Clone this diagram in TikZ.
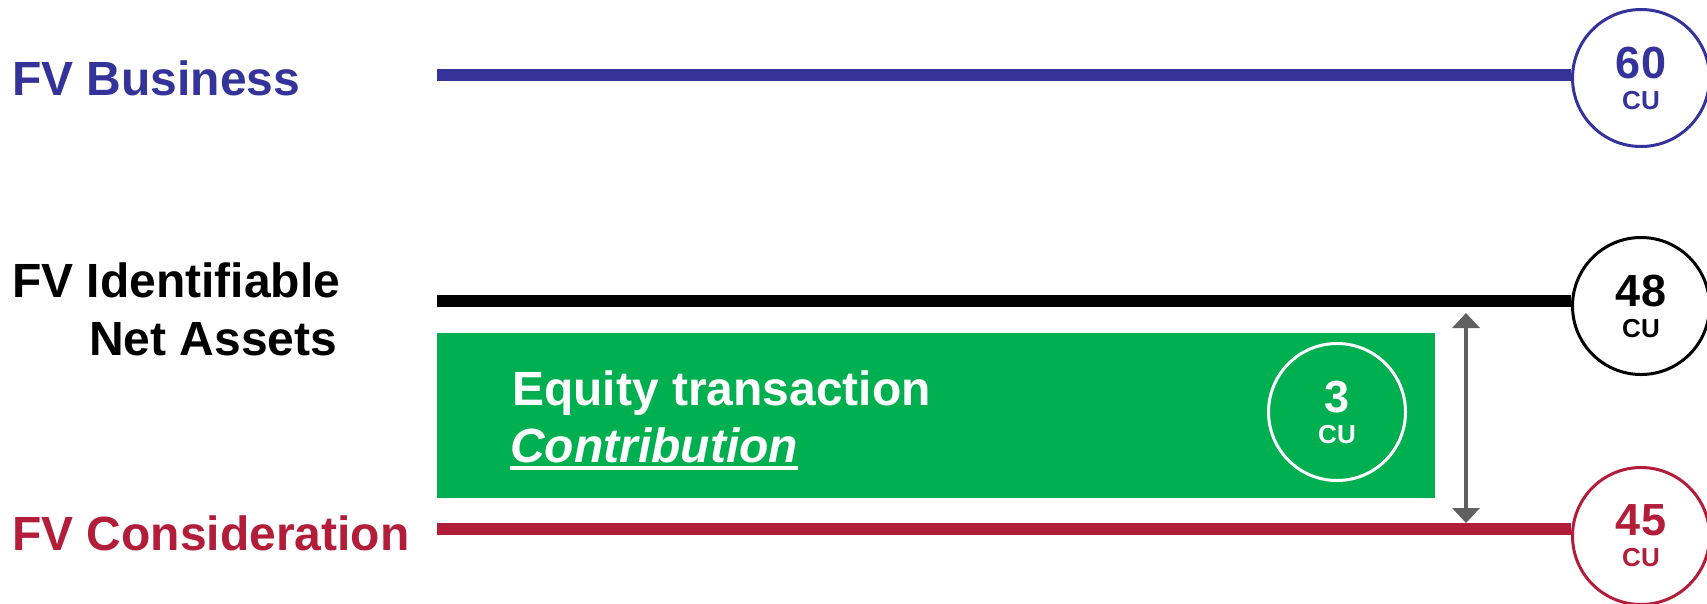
\documentclass[tikz,border=0pt]{standalone}
\usepackage{fontspec}
\setmainfont{Liberation Sans}
\usepackage{tikz}
\usetikzlibrary{arrows.meta}
\definecolor{fvblue}{RGB}{51,51,153}
\definecolor{fvred}{RGB}{178,29,58}
\definecolor{fvgreen}{RGB}{0,176,80}
\definecolor{fvgray}{RGB}{96,96,96}
\newcommand{\lbltxt}{\fontsize{48}{58}\selectfont\bfseries}
\newcommand{\cuval}[1]{{\fontsize{45}{31}\selectfont #1}\\{\fontsize{26}{31}\selectfont CU}}

\begin{document}
\begin{tikzpicture}[x=1pt, y=-1pt,
    valcircle/.style={shape=circle, draw=#1, text=#1, line width=3pt, fill=white, minimum size=137pt, inner sep=0pt, align=center, font=\bfseries\fontsize{26}{31}\selectfont},
    levelline/.style={line width=12pt},
    lbl/.style={anchor=base west, inner sep=0pt, font=\lbltxt}]
    \useasboundingbox (0,0) rectangle (1707,603);
    % Value circles:
    \node[valcircle=fvblue] (bizval) at (1641,78) {\cuval{60}};
    \node[valcircle=black] (netval) at (1641,306) {\cuval{48}};
    \node[valcircle=fvred] (conval) at (1641,536) {\cuval{45}};
    % Level lines:
    \coordinate (bizstart) at (437,75);
    \coordinate (netstart) at (437,301);
    \coordinate (constart) at (437,529);
    \draw[levelline, fvblue] (bizstart) -- (bizstart -| bizval.west);
    \draw[levelline, black] (netstart) -- (netstart -| netval.west);
    \draw[levelline, fvred] (constart) -- (constart -| conval.west);
    % Equity transaction box:
    \node[fill=fvgreen, minimum width=998pt, minimum height=165pt, anchor=north west, inner sep=0pt] (eqbox) at (437,333) {};
    \node[valcircle=white, fill=none] (eqval) at (1337,412) {\cuval{3}};
    \node[lbl, text=white] (eqtitle) at (512,405) {Equity transaction};
    \node[lbl, text=white, font=\lbltxt\itshape] (eqsub) at (510,462) {Contribution};
    \draw[white, line width=4pt] ([yshift=-6pt]eqsub.base west) -- ([yshift=-6pt]eqsub.base east);
    % Gap arrow:
    \coordinate (gaptop) at (1466,313);
    \coordinate (gapbot) at (1466,523);
    \draw[fvgray, line width=4pt, {Triangle[width=27pt,length=15pt]}-{Triangle[width=27pt,length=15pt]}] (gaptop) -- (gapbot);
    % Labels:
    \node[lbl, text=fvblue] (bizlbl) at (12,95) {FV Business};
    \node[lbl] (identlbl) at (12,297) {FV Identifiable};
    \node[lbl] (netlbl) at (89,355) {Net Assets};
    \node[lbl, text=fvred] (conlbl) at (12,550) {FV Consideration};
\end{tikzpicture}
\end{document}
